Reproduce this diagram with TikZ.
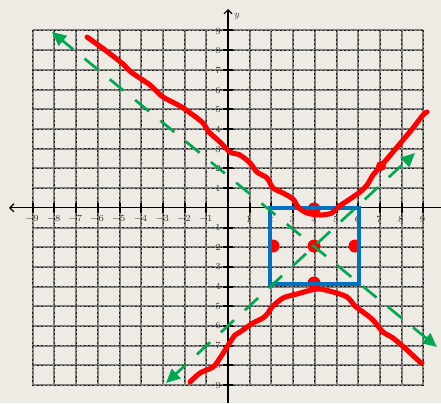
\documentclass[tikz,border=0pt]{standalone}
\usetikzlibrary{arrows.meta}
\definecolor{bg}{RGB}{238,235,228}
\definecolor{grn}{RGB}{0,168,80}
\definecolor{blu}{RGB}{0,112,192}
\definecolor{rd}{RGB}{255,0,0}
\begin{document}
\begin{tikzpicture}[x=0.75pt,y=-0.75pt,
  gridbase/.style={draw=black!50,line width=1.5pt},
  griddash/.style={draw=black!90,line width=0.6pt,dash pattern=on 1.2pt off 2pt},
  axisline/.style={draw=black,line width=0.9pt},
  tickmark/.style={draw=black,line width=1.5pt},
  lab/.style={font=\fontsize{7pt}{8pt}\selectfont,text=black!80,inner sep=0pt},
  asym/.style={draw=grn,line width=2pt,dash pattern=on 13.5pt off 11pt,dash phase=3pt,
    {Triangle[length=10.5pt,width=9.5pt]}-{Triangle[length=10.5pt,width=9.5pt]}},
  boxline/.style={draw=blu,line width=2.8pt},
  curve/.style={draw=rd,line width=3.8pt,line cap=round,line join=round},
  pt/.style={fill=rd}]
\fill[bg] (0,0) rectangle (441,403);
\useasboundingbox (0,0) rectangle (441,403);
% grid
\foreach \i in {-9,...,9}{
  \draw[gridbase] ({228+21.7*\i},30.5) -- ({228+21.7*\i},385.1);
  \draw[griddash] ({228+21.7*\i},30.5) -- ({228+21.7*\i},385.1);
}
\foreach \j in {-9,...,-1,1,2,...,9}{
  \draw[gridbase] (32.7,{207.8-19.7*\j}) -- (423.3,{207.8-19.7*\j});
  \draw[griddash] (32.7,{207.8-19.7*\j}) -- (423.3,{207.8-19.7*\j});
}
% axes
\coordinate (xl) at (9,207.8);
\coordinate (xr) at (441,207.8);
\coordinate (yb) at (228,403);
\coordinate (yt) at (228,9);
\draw[axisline,{Straight Barb[length=3pt,width=6pt]}-] (xl) -- (xr);
\draw[axisline,-{Straight Barb[length=3pt,width=6pt]}] (yb) -- (yt);
\node[lab,font=\fontsize{7pt}{8pt}\selectfont\itshape] (ylab) at (236.5,16.5) {y};
\foreach \i in {-9,...,-1,1,2,...,9}{
  \draw[tickmark] ({228+21.7*\i},203) -- ({228+21.7*\i},212.5);
  \draw[tickmark] (223,{207.8-19.7*\i}) -- (233,{207.8-19.7*\i});
  \node[lab] (xt\i) at ({228+21.7*\i-0.8},219.5) {$\i$};
  \node[lab,anchor=east] (yt\i) at (221,{207.8-19.7*\i+0.5}) {$\i$};
}
% red points
\begin{scope}
\clip (271,209.5) rectangle (357,283);
\fill[pt] (273,246) circle (6.5);
\fill[pt] (355,246) circle (6.5);
\end{scope}
\fill[pt] (314,246) circle (6.5);
\fill[pt] (314,209) circle (6.5);
\fill[pt] (314,283) circle (6.5);
% blue box
\draw[boxline] (270,207.8) rectangle (359,284.3);
% asymptotes
\coordinate (a1) at (52,32);
\coordinate (a2) at (437,347);
\coordinate (b1) at (166,383);
\coordinate (b2) at (415,153);
\draw[asym] (a1) -- (a2);
\draw[asym] (b1) -- (b2);
% hyperbola
\draw[curve] plot[smooth,tension=0.5] coordinates {(87,37) (105,50) (123,64) (131,72) (150,85) (163,97) (180,106) (193,115) (203,123) (209,132) (220,142) (230,152) (240,155) (250,163) (257,172) (267,178) (273,188) (283,193) (293,199) (298,207) (307,213) (320,215) (332,213) (338,207) (347,201) (360,192) (367,185) (373,175) (380,167) (393,152) (403,140) (413,128) (423,115) (427,112)};
\draw[curve] plot[smooth,tension=0.5] coordinates {(190,382) (200,373) (213,367) (220,358) (227,347) (235,335) (240,332) (253,323) (263,318) (268,313) (272,307) (283,298) (297,294) (317,289) (333,292) (347,297) (355,306) (363,312) (373,320) (383,332) (393,338) (407,350) (420,362) (422,363)};
\fill[pt] (381,166) circle (5);
\end{tikzpicture}
\end{document}
